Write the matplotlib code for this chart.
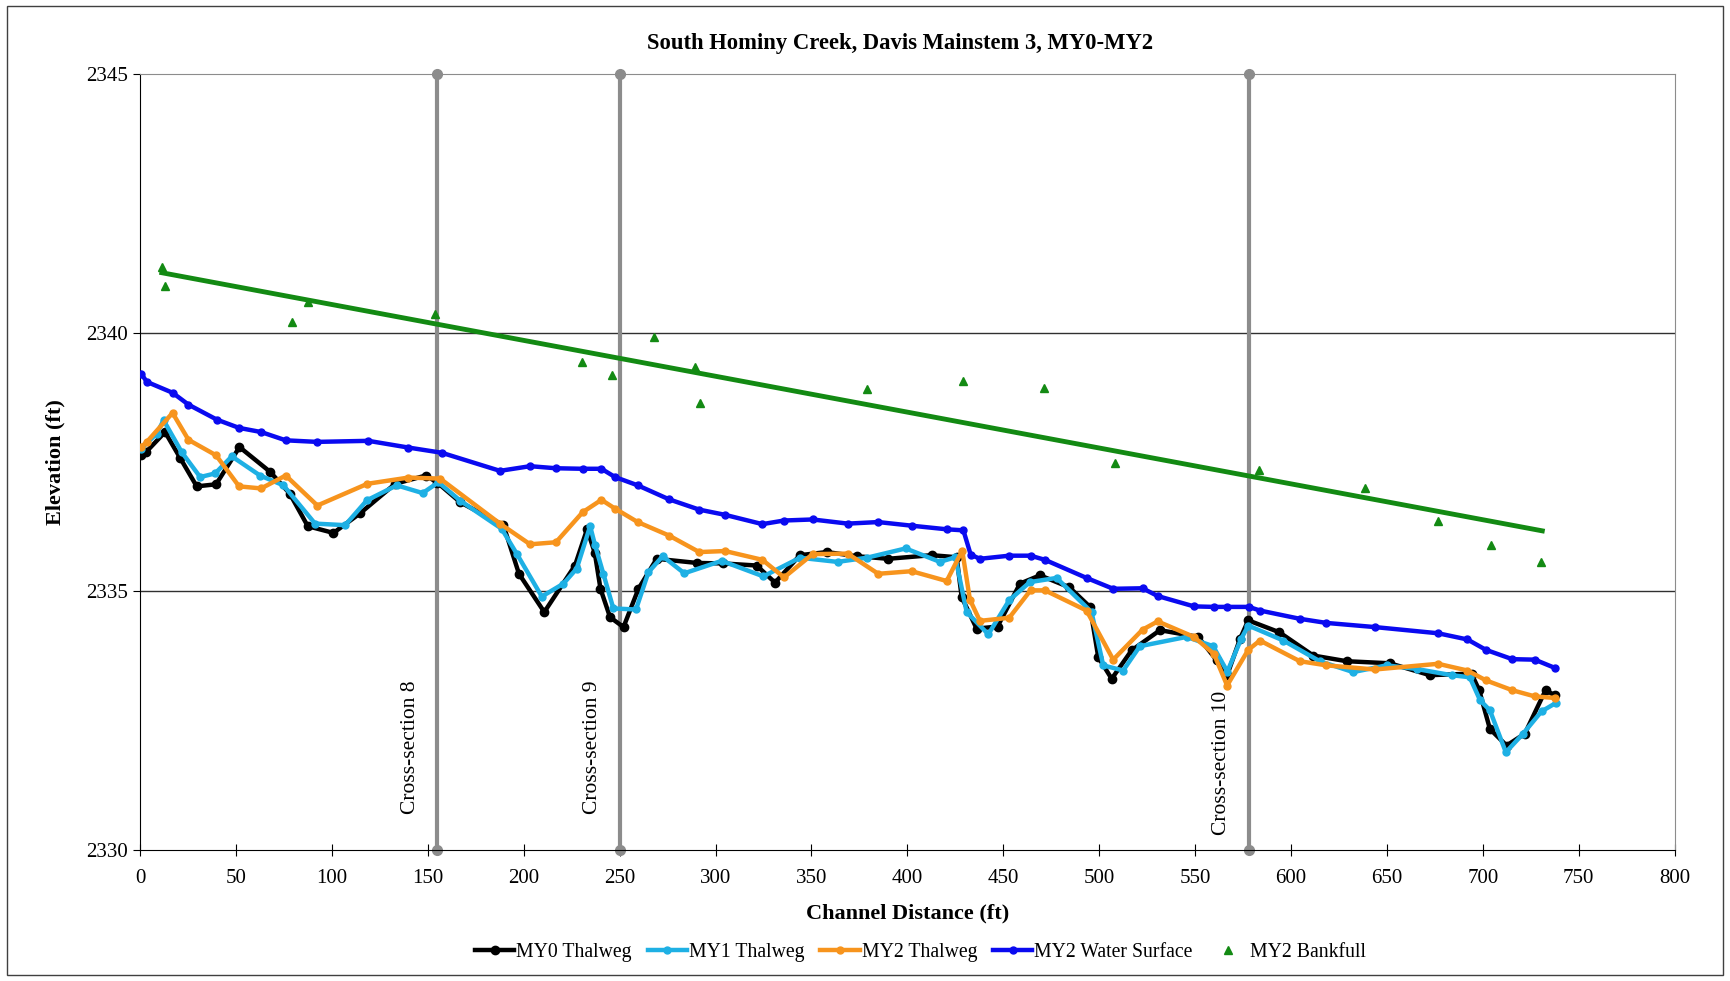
import numpy as np
import matplotlib
matplotlib.use("Agg")
import matplotlib.pyplot as plt
from matplotlib.patches import Rectangle
from matplotlib.lines import Line2D

plt.rcParams['font.family'] = ['Liberation Serif', 'DejaVu Serif']

# MY0 thalweg
my0_x = [0.5, 3, 13, 21, 29.5, 39.6, 51.8, 67.8, 78, 87.4, 100.8, 114.7, 133, 149, 155,
         167, 189.4, 197.5, 210.7, 226.7, 233, 237, 240, 245, 252, 259.8, 269.3, 290.2,
         304, 321.4, 331, 344, 358, 373.6, 390, 412.6, 425.7, 428.3, 436.1, 447, 458.7,
         469.1, 484.4, 495.2, 499.5, 506.5, 516.9, 531.7, 551.6, 561.2, 566.8, 573.4,
         577.7, 593.9, 611.6, 629, 651.5, 672.4, 694.1, 698.1, 703.7, 712.4, 721.9,
         732.7, 737.6]
my0_y = [2337.63, 2337.69, 2338.08, 2337.57, 2337.03, 2337.07, 2337.79, 2337.31, 2336.89,
         2336.26, 2336.13, 2336.51, 2337.08, 2337.24, 2337.10, 2336.72, 2336.28, 2335.34,
         2334.60, 2335.50, 2336.20, 2335.75, 2335.05, 2334.50, 2334.31, 2335.05, 2335.63,
         2335.55, 2335.54, 2335.50, 2335.17, 2335.70, 2335.76, 2335.68, 2335.63, 2335.70,
         2335.66, 2334.89, 2334.28, 2334.32, 2335.15, 2335.31, 2335.08, 2334.70, 2333.73,
         2333.31, 2333.86, 2334.25, 2334.12, 2333.67, 2333.39, 2334.08, 2334.44, 2334.21,
         2333.76, 2333.65, 2333.61, 2333.38, 2333.41, 2333.09, 2332.34, 2332.02, 2332.25,
         2333.09, 2332.99]

# MY1 thalweg
my1_x = [0.5, 8.7, 12.2, 21.7, 31.3, 39.1, 47.8, 62.5, 74.7, 91.2, 106.9, 118.2, 133.8,
         147.3, 155.5, 167, 188.5, 196.3, 209.4, 220.7, 227.6, 234.6, 237.2, 241.5, 246.7,
         258.5, 265, 272.4, 283.7, 303.2, 324.9, 344, 363.6, 378.8, 399.1, 417, 425, 430.9,
         442.2, 453.1, 463.9, 477.8, 496, 502.1, 512.5, 521.2, 545.6, 559.4, 566.8, 574,
         577.7, 596, 615, 632.4, 649.8, 665.5, 683.7, 693.2, 698.5, 703.7, 712, 721,
         730.6, 738.4]
my1_y = [2337.76, 2338.05, 2338.31, 2337.69, 2337.21, 2337.28, 2337.61, 2337.24, 2337.05,
         2336.31, 2336.28, 2336.76, 2337.05, 2336.90, 2337.11, 2336.75, 2336.21, 2335.73,
         2334.90, 2335.15, 2335.44, 2336.26, 2335.89, 2335.34, 2334.67, 2334.65, 2335.37,
         2335.68, 2335.35, 2335.59, 2335.29, 2335.65, 2335.57, 2335.65, 2335.83, 2335.57,
         2335.66, 2334.60, 2334.17, 2334.83, 2335.18, 2335.26, 2334.60, 2333.57, 2333.47,
         2333.94, 2334.12, 2333.94, 2333.45, 2334.08, 2334.34, 2334.05, 2333.65, 2333.44,
         2333.57, 2333.50, 2333.38, 2333.34, 2332.90, 2332.70, 2331.89, 2332.25, 2332.68,
         2332.85]

# MY2 thalweg
my2_x = [0.5, 3.5, 16.9, 25.2, 39.6, 51.6, 63.1, 75.9, 92.4, 118.5, 139.9, 156.4, 187.6,
         203.3, 216.8, 230.7, 240.5, 247.6, 259.4, 275.7, 291.5, 304.9, 324.4, 335.7,
         350.6, 368.9, 384.8, 402.2, 420.5, 428.6, 432.6, 437.8, 453.1, 464.2, 471.7,
         493.4, 507.3, 522.6, 530.5, 549.4, 559.8, 566.7, 577.7, 583.8, 604.6, 618.5,
         643.7, 676.7, 692.0, 701.6, 715.3, 727.1, 737.6]
my2_y = [2337.79, 2337.89, 2338.45, 2337.93, 2337.63, 2337.03, 2336.99, 2337.24, 2336.66,
         2337.08, 2337.20, 2337.18, 2336.31, 2335.91, 2335.95, 2336.53, 2336.77, 2336.60,
         2336.34, 2336.08, 2335.76, 2335.78, 2335.61, 2335.27, 2335.72, 2335.73, 2335.34,
         2335.39, 2335.20, 2335.79, 2334.84, 2334.43, 2334.49, 2335.02, 2335.02, 2334.63,
         2333.68, 2334.26, 2334.42, 2334.12, 2333.79, 2333.18, 2333.87, 2334.05, 2333.65,
         2333.57, 2333.49, 2333.60, 2333.47, 2333.28, 2333.09, 2332.97, 2332.94]

# MY2 water surface
ws_x = [0.5, 3.5, 16.9, 25.2, 40, 51.6, 63.1, 75.9, 92.1, 119, 139.9, 157.2, 187.6, 203.3,
        216.8, 230.7, 240.5, 247.6, 259.4, 275.7, 291.5, 304.9, 324.4, 335.7, 350.6, 368.9,
        384.8, 402.2, 420.5, 429.2, 433, 437.8, 453.1, 464.2, 471.7, 493.4, 507.3, 522.6,
        530.5, 549.4, 559.8, 566.7, 578, 583.8, 604.6, 618.5, 643.7, 676.7, 692, 701.6,
        715.3, 727.1, 737.6]
ws_y = [2339.21, 2339.05, 2338.84, 2338.61, 2338.32, 2338.16, 2338.08, 2337.92, 2337.89,
        2337.91, 2337.78, 2337.68, 2337.33, 2337.42, 2337.38, 2337.37, 2337.37, 2337.21,
        2337.05, 2336.78, 2336.58, 2336.48, 2336.30, 2336.37, 2336.39, 2336.31, 2336.34,
        2336.27, 2336.20, 2336.18, 2335.71, 2335.63, 2335.69, 2335.69, 2335.61, 2335.26,
        2335.05, 2335.06, 2334.91, 2334.71, 2334.70, 2334.70, 2334.70, 2334.63, 2334.47,
        2334.39, 2334.31, 2334.19, 2334.07, 2333.87, 2333.69, 2333.68, 2333.52]

# MY2 bankfull points and trend
bkf_x = [11.3, 13.0, 79.4, 87.4, 153.8, 230.2, 246.2, 267.8, 289.5, 291.7, 379.1, 429.2,
         471.0, 508.2, 583.3, 638.5, 676.6, 704.2, 730.2]
bkf_y = [2341.27, 2340.90, 2340.21, 2340.60, 2340.37, 2339.44, 2339.19, 2339.91, 2339.33,
         2338.64, 2338.91, 2339.06, 2338.93, 2337.48, 2337.35, 2337.00, 2336.37, 2335.89,
         2335.57]
trend_x = [11.3, 731]
trend_y = [2341.16, 2336.17]

xs_pos = [155, 250, 578]
xs_labels = ["Cross-section 8", "Cross-section 9", "Cross-section 10"]
xs_label_bottom = [2330.7, 2330.7, 2330.3]

fig = plt.figure(figsize=(17.3, 9.81), dpi=100)
ax = fig.add_axes([0.081, 0.1335, 0.887, 0.791])

for y in [2335, 2340]:
    ax.axhline(y, color='#303030', lw=1, zorder=1)

for x, lab, yb in zip(xs_pos, xs_labels, xs_label_bottom):
    ax.plot([x, x], [2330, 2345], color='#8C8C8C', lw=3, marker='o', ms=7, zorder=2,
            clip_on=False)
    ax.text(x - 14, yb, lab, rotation=90, ha='center', va='bottom', fontsize=15.5)

c0, c1, c2, c3, c4 = 'black', '#1EB0E4', '#F7941D', '#0A0AF0', '#138A13'
ax.plot(my0_x, my0_y, color=c0, lw=3.2, marker='o', ms=6, zorder=3)
ax.plot(my1_x, my1_y, color=c1, lw=3.2, marker='o', ms=5, zorder=4)
ax.plot(my2_x, my2_y, color=c2, lw=3.2, marker='o', ms=5, zorder=5)
ax.plot(ws_x, ws_y, color=c3, lw=3.2, marker='o', ms=5, zorder=6)
ax.plot(bkf_x, bkf_y, ls='none', marker='^', color=c4, ms=6, zorder=7)
ax.plot(trend_x, trend_y, color=c4, lw=3.5, zorder=8)

ax.set_xlim(0, 800)
ax.set_ylim(2330, 2345)
ax.set_xticks(np.arange(0, 801, 50))
ax.set_yticks([2330, 2335, 2340, 2345])
ax.tick_params(axis='x', direction='inout', length=9, labelsize=15, pad=9)
ax.tick_params(axis='y', direction='out', length=5, labelsize=15)
for s in ['top', 'right']:
    ax.spines[s].set_color('#8C8C8C')
for s in ['left', 'bottom']:
    ax.spines[s].set_color('black')

ax.set_title("South Hominy Creek, Davis Mainstem 3, MY0-MY2", fontsize=16.3,
             fontweight='bold', pad=18, x=0.495)
ax.set_xlabel("Channel Distance (ft)", fontsize=16, fontweight='bold', labelpad=11)
ax.set_ylabel("Elevation (ft)", fontsize=16, fontweight='bold', labelpad=15)

handles = [
    Line2D([], [], color=c0, lw=3.2, marker='o', ms=6),
    Line2D([], [], color=c1, lw=3.2, marker='o', ms=5),
    Line2D([], [], color=c2, lw=3.2, marker='o', ms=5),
    Line2D([], [], color=c3, lw=3.2, marker='o', ms=5),
    Line2D([], [], ls='none', color=c4, marker='^', ms=6),
]
names = ["MY0 Thalweg", "MY1 Thalweg", "MY2 Thalweg", "MY2 Water Surface", "MY2 Bankfull"]
fig.legend(handles, names, loc='center', bbox_to_anchor=(0.532, 0.029), ncol=5,
           frameon=False, fontsize=14.2, handlelength=2.0, handletextpad=0.1,
           columnspacing=0.8)

fig.patches.append(Rectangle((0.004, 0.006), 0.992, 0.988, transform=fig.transFigure,
                             fill=False, ec='#404040', lw=1))

fig.savefig("out.png", dpi=100)
